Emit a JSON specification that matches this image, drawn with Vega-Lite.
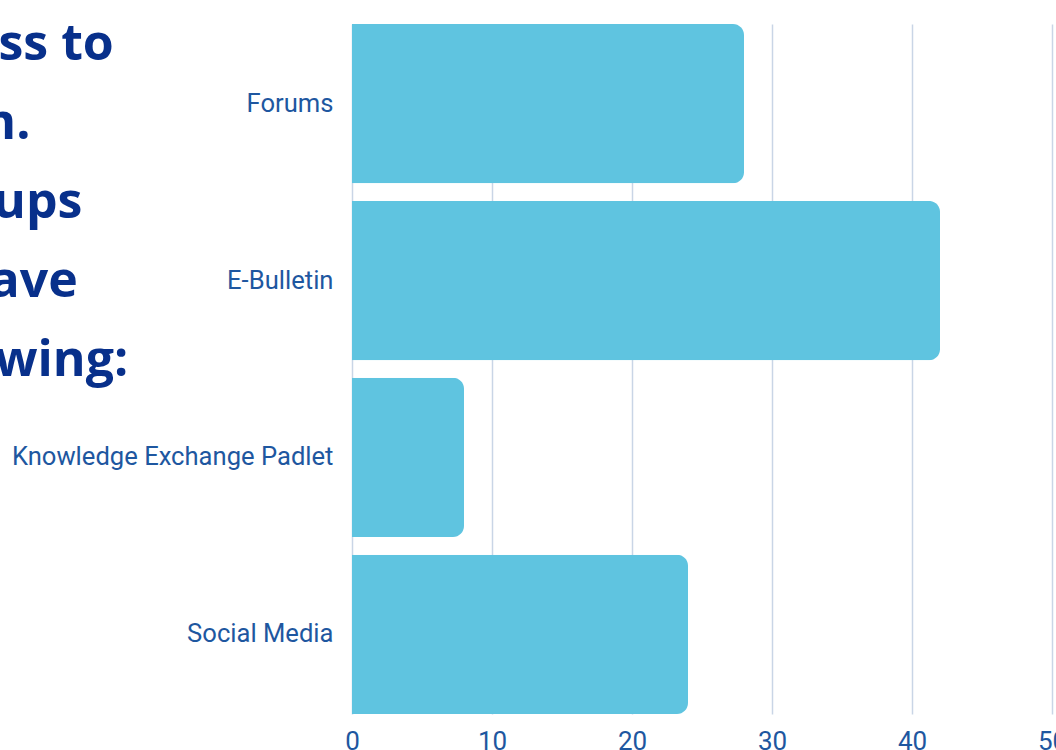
{
  "$schema": "https://vega.github.io/schema/vega-lite/v6.json",
  "autosize": {"type": "none"},
  "width": 700,
  "height": 690,
  "padding": {"left": 352, "top": 24, "right": 4, "bottom": 36},
  "background": "white",
  "title": {
    "text": ["Access to", "them.", "Pop-ups", "all have", "following:"],
    "anchor": "start",
    "frame": "group",
    "orient": "top",
    "align": "left",
    "baseline": "alphabetic",
    "font": "Open Sans",
    "fontSize": 50,
    "fontWeight": "bold",
    "color": "#08308b",
    "lineHeight": 79,
    "offset": 0,
    "dx": -469,
    "dy": 402
  },
  "data": {
    "values": [
      {"channel": "Forums", "count": 28},
      {"channel": "E-Bulletin", "count": 42},
      {"channel": "Knowledge Exchange Padlet", "count": 8},
      {"channel": "Social Media", "count": 24}
    ]
  },
  "mark": {"type": "bar", "color": "#5fc4e0", "cornerRadiusEnd": 11},
  "encoding": {
    "y": {
      "field": "channel",
      "type": "nominal",
      "sort": null,
      "scale": {"paddingInner": 0.1, "paddingOuter": 0},
      "axis": {
        "title": null,
        "ticks": false,
        "domain": false,
        "labelFont": "Roboto",
        "labelFontSize": 25.6,
        "labelColor": "#1e57a0",
        "labelPadding": 19,
        "labelLimit": 400
      }
    },
    "x": {
      "field": "count",
      "type": "quantitative",
      "scale": {"domain": [0, 50], "nice": false},
      "axis": {
        "title": null,
        "ticks": false,
        "domain": false,
        "values": [0, 10, 20, 30, 40, 50],
        "grid": true,
        "gridColor": "#c9d5e6",
        "gridWidth": 1.5,
        "labelFont": "Roboto",
        "labelFontSize": 26,
        "labelColor": "#1e57a0",
        "labelPadding": 14,
        "labelBaseline": "top",
        "labelFlush": false,
        "labelOverlap": false
      }
    }
  },
  "config": {"view": {"stroke": null}}
}
